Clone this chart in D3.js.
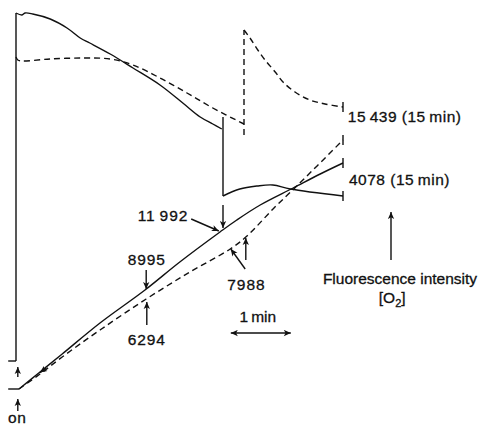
<!DOCTYPE html>
<html>
<head>
<meta charset="utf-8">
<script src="https://cdn.jsdelivr.net/npm/d3@7"></script>
<style>
html, body { margin: 0; padding: 0; background: #fff; }
svg { display: block; }
text { font-family: "Liberation Sans", Arial, sans-serif; font-size: 15.5px; fill: #111; stroke: #111; stroke-width: 0.3px; }
</style>
</head>
<body>
<div id="chart"></div>
<script>
// time in minutes after "on", signal in arbitrary fluorescence units (0-100)

// upper solid trace, before the step
const upperSolidT = [0, 0.1, 0.15, 0.28, 0.57, 0.85, 1.07, 1.23, 1.57, 1.95, 2.4, 2.78, 3.07, 3.28, 3.43];
const upperSolidV = [98, 97.5, 98, 97.75, 96.5, 94.25, 91.75, 90.5, 87.75, 84.25, 80, 75.5, 72, 70.25, 69];
// upper solid trace, after the step
const lowSolidT = [3.45, 3.73, 4.02, 4.28, 4.57, 5.45];
const lowSolidV = [52.25, 54, 54.75, 55, 54, 52.25];

// upper dashed trace, before and after the step
const upperDashT = [0, 0.03, 0.1, 0.57, 1.12, 1.57, 1.95, 2.4, 2.85, 3.28, 3.8];
const upperDashV = [87, 86.25, 86, 86.5, 86.75, 86.5, 85, 81.75, 78, 74.25, 70.25];
const decayDashT = [3.8, 3.9, 4.03, 4.15, 4.32, 4.45, 4.65, 4.9, 5.15, 5.45];
const decayDashV = [93.75, 91.75, 88.75, 86.25, 83.25, 80.75, 78.25, 76.25, 75.25, 74.5];

// rising (O2) traces
const riseSolidT = [0.05, 0.4, 0.77, 1.4, 2.15, 2.73, 3.4, 3.68, 4.07, 4.62, 5.07, 5.45];
const riseSolidV = [4, 8.25, 12.75, 20.5, 28.75, 35.75, 43.25, 46.25, 50, 54.25, 57.75, 60.5];
const riseDashT = [0.05, 0.4, 0.77, 1.4, 2.17, 2.9, 3.57, 3.85, 4.3, 4.68, 5.45];
const riseDashV = [4, 7.75, 12, 18.75, 26.5, 33.25, 39, 42.25, 49.25, 54.75, 66.25];

// vertical jumps: time, from, to, dashed?
const jumpT = [0, 3.45, 3.8];
const jumpFrom = [11, 72, 67.5];
const jumpTo = [98, 52.25, 93.75];
const jumpDashed = [false, false, true];

// baselines (short horizontal ticks at the left)
const baseT0 = [-0.13, -0.13];
const baseT1 = [0, 0.05];
const baseV = [11, 4];

// end markers at 15 min
const endT = 5.45;
const endV = [74.5, 66.25, 60.5, 52.25];

// arrows: tail -> tip
const arrowT0 = [2.92, 3.45, 2.17, 2.18, 3.82, 3.83, 6.25, 0.03, 0.03, 0.5];
const arrowV0 = [46.5, 50, 33.75, 20, 34, 36.25, 36.25, -1.5, 7, 9.2];
const arrowT1 = [3.38, 3.45, 2.17, 2.18, 3.58, 3.83, 6.25, 0.03, 0.03, 0.4];
const arrowV1 = [43.5, 44.25, 29, 25.75, 39, 41.75, 48.25, 1.5, 9.5, 8.1];

// text labels
const labelText = ["11\u2009992", "8995", "6294", "7988", "15\u2009439 (15\u2009min)", "4078 (15\u2009min)", "1\u2009min", "Fluorescence intensity", "on"];
const labelT = [2.87, 2.18, 2.18, 3.84, 5.53, 5.55, 4.03, 6.4, 0.02];
const labelV = [46, 35, 15, 28.75, 70.75, 55, 20.75, 30.25, -4.4];
const labelAnchor = ["end", "middle", "middle", "middle", "start", "start", "middle", "middle", "middle"];
const labelSpacing = [0.9, 0.9, 0.9, 0.9, 0.5, 0.5, 0, 0, 0.5];

// 1 min scale bar
const scaleBarT = [3.58, 4.58];
const scaleBarV = 18;

const W = 481, H = 427;
const x = d3.scaleLinear().domain([0, 7.75]).range([16, 481]);
const y = d3.scaleLinear().domain([0, 100]).range([405, 5]);

const svg = d3.select("#chart").append("svg")
    .attr("width", W)
    .attr("height", H);

const defs = svg.append("defs");
defs.append("marker")
    .attr("id", "ah")
    .attr("viewBox", "0 0 10 10")
    .attr("refX", 10)
    .attr("refY", 5)
    .attr("markerUnits", "userSpaceOnUse")
    .attr("markerWidth", 8)
    .attr("markerHeight", 7)
    .attr("orient", "auto-start-reverse")
    .append("path")
    .attr("d", "M0,0.5 L10,5 L0,9.5 L2.5,5 z")
    .attr("fill", "#111");

const line = d3.line()
    .x(d => x(d[0]))
    .y(d => y(d[1]))
    .curve(d3.curveCatmullRom.alpha(0.5));

const zip = (ts, vs) => ts.map((t, i) => [t, vs[i]]);

const series = [
    { pts: zip(upperSolidT, upperSolidV), dashed: false },
    { pts: zip(lowSolidT, lowSolidV), dashed: false },
    { pts: zip(upperDashT, upperDashV), dashed: true },
    { pts: zip(decayDashT, decayDashV), dashed: true },
    { pts: zip(riseSolidT, riseSolidV), dashed: false },
    { pts: zip(riseDashT, riseDashV), dashed: true }
];

const g = svg.append("g")
    .attr("fill", "none")
    .attr("stroke", "#111")
    .attr("stroke-width", 1.4);

g.selectAll("path.trace")
    .data(series)
    .enter()
    .append("path")
    .attr("class", "trace")
    .attr("d", d => line(d.pts))
    .attr("stroke-dasharray", d => d.dashed ? "6,4" : null);

// jumps
g.selectAll("line.jump")
    .data(jumpT.map((t, i) => ({ t, a: jumpFrom[i], b: jumpTo[i], dashed: jumpDashed[i] })))
    .enter()
    .append("line")
    .attr("class", "jump")
    .attr("x1", d => x(d.t)).attr("x2", d => x(d.t))
    .attr("y1", d => y(d.a)).attr("y2", d => y(d.b))
    .attr("stroke-dasharray", d => d.dashed ? "6,4" : null);

// baselines
g.selectAll("line.base")
    .data(baseV.map((v, i) => ({ v, t0: baseT0[i], t1: baseT1[i] })))
    .enter()
    .append("line")
    .attr("class", "base")
    .attr("x1", d => x(d.t0)).attr("x2", d => x(d.t1))
    .attr("y1", d => y(d.v)).attr("y2", d => y(d.v));

// end ticks
g.selectAll("line.end")
    .data(endV)
    .enter()
    .append("line")
    .attr("class", "end")
    .attr("x1", x(endT)).attr("x2", x(endT))
    .attr("y1", d => y(d) - 5).attr("y2", d => y(d) + 5);

// arrows
g.selectAll("line.arrow")
    .data(arrowT0.map((t, i) => ({ t0: t, v0: arrowV0[i], t1: arrowT1[i], v1: arrowV1[i] })))
    .enter()
    .append("line")
    .attr("class", "arrow")
    .attr("stroke-width", 1.4)
    .attr("x1", d => x(d.t0)).attr("y1", d => y(d.v0))
    .attr("x2", d => x(d.t1)).attr("y2", d => y(d.v1))
    .attr("marker-end", "url(#ah)");

// 1 min scale bar
g.append("line")
    .attr("stroke-width", 1.4)
    .attr("x1", x(scaleBarT[0])).attr("x2", x(scaleBarT[1]))
    .attr("y1", y(scaleBarV)).attr("y2", y(scaleBarV))
    .attr("marker-start", "url(#ah)")
    .attr("marker-end", "url(#ah)");

// labels
svg.selectAll("text.lbl")
    .data(labelText.map((s, i) => ({ s, t: labelT[i], v: labelV[i], a: labelAnchor[i], ls: labelSpacing[i] })))
    .enter()
    .append("text")
    .attr("class", "lbl")
    .attr("x", d => x(d.t))
    .attr("y", d => y(d.v))
    .attr("text-anchor", d => d.a)
    .attr("letter-spacing", d => d.ls)
    .text(d => d.s);

// [O2] with subscript
const o2 = svg.append("text")
    .attr("x", x(6.27))
    .attr("y", y(25.5))
    .attr("text-anchor", "middle");
o2.append("tspan").text("[O");
o2.append("tspan").attr("dy", 4).attr("font-size", 11).text("2");
o2.append("tspan").attr("dy", -4).text("]");
</script>
</body>
</html>
